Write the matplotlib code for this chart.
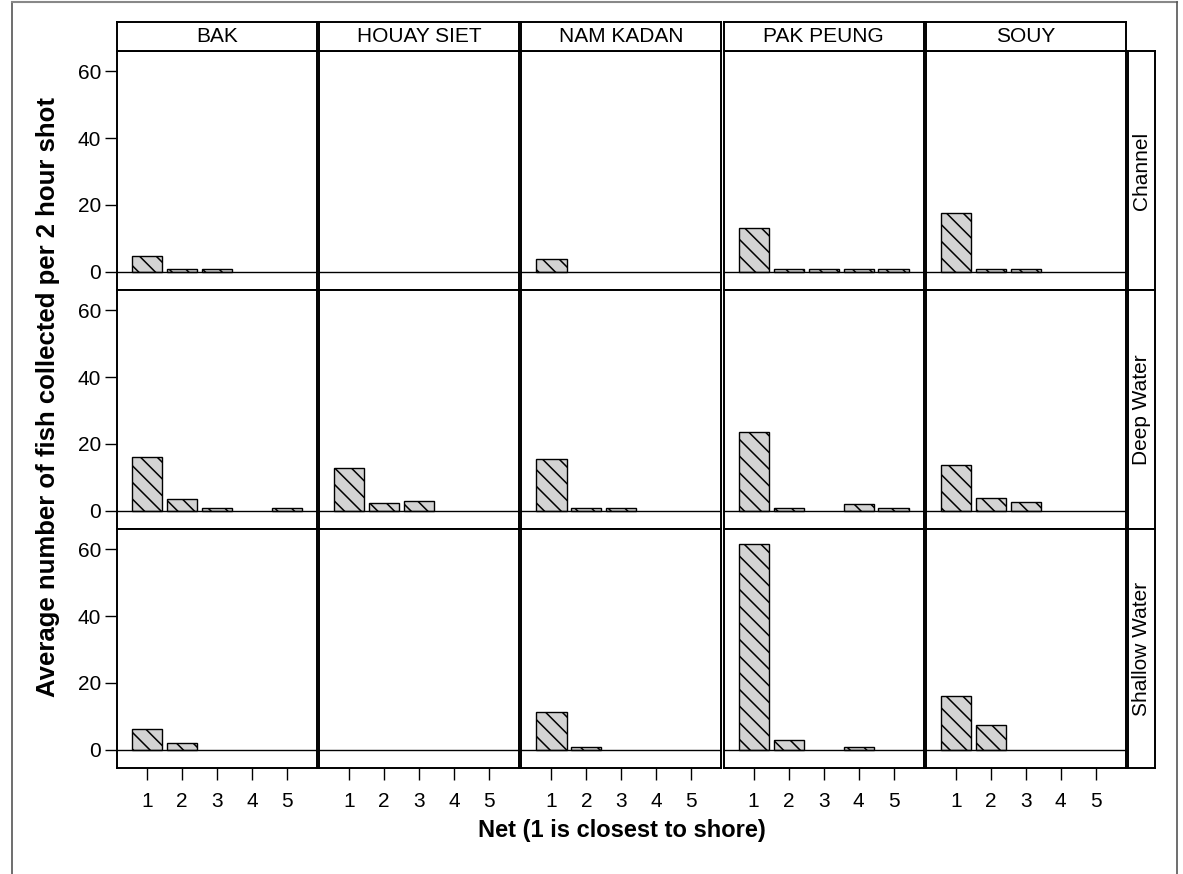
import numpy as np
import matplotlib
matplotlib.use("Agg")
import matplotlib.pyplot as plt
from matplotlib.lines import Line2D

plt.rcParams['font.family'] = ['Liberation Sans', 'DejaVu Sans']
plt.rcParams['hatch.linewidth'] = 1.1
plt.rcParams['hatch.color'] = 'black'

sites = ["BAK", "HOUAY SIET", "NAM KADAN", "PAK PEUNG", "SOUY"]
habitats = ["Channel", "Deep Water", "Shallow Water"]
nets = [1, 2, 3, 4, 5]

# average fish per 2 hour shot, nets 1..5 (nan = no bar)
nan = np.nan
channel = [
    [4.8, 1, 1, nan, nan],
    [nan, nan, nan, nan, nan],
    [4.0, nan, nan, nan, nan],
    [13.0, 1, 1, 1, 1],
    [17.7, 1, 1, nan, nan],
]
deep_water = [
    [16.1, 3.6, 1, nan, 1],
    [12.9, 2.5, 3.0, nan, nan],
    [15.6, 1, 1, nan, nan],
    [23.5, 1, nan, 2.0, 1],
    [13.7, 4.0, 2.7, nan, nan],
]
shallow_water = [
    [6.3, 2.1, nan, nan, nan],
    [nan, nan, nan, nan, nan],
    [11.3, 1, nan, nan, nan],
    [61.5, 3.0, nan, 1, nan],
    [16.1, 7.5, nan, nan, nan],
]
values = [channel, deep_water, shallow_water]

W, H = 1183, 874
fig = plt.figure(figsize=(W / 100, H / 100), dpi=100)

col_left = 117
col_w = 200
col_step = 202.2
row_top = 51
row_h = 239
strip_top = 22
fs = 15

def fx(px):
    return px / W

def fy(py):
    return 1 - py / H

for r, hab in enumerate(habitats):
    for c, site in enumerate(sites):
        x0 = col_left + c * col_step
        y0 = row_top + r * row_h
        ax = fig.add_axes([fx(x0), fy(y0 + row_h), col_w / W, row_h / H])
        vals = np.array(values[r][c], dtype=float)
        ok = ~np.isnan(vals)
        ax.bar(np.array(nets)[ok], vals[ok], width=0.86, color='#d3d3d3',
               edgecolor='black', linewidth=1.0, hatch='\\\\', zorder=2)
        ax.axhline(0, color='black', lw=1.0, zorder=3)
        ax.set_xlim(0.14, 5.86)
        ax.set_ylim(-5.4, 66)
        for s in ax.spines.values():
            s.set_linewidth(1.4)
        ax.tick_params(direction='out', length=8.5, width=1.0, labelsize=fs, pad=3)
        ax.set_yticks([0, 20, 40, 60])
        ax.set_xticks(nets)
        if c != 0:
            ax.tick_params(axis='y', left=False, labelleft=False)
        if r != len(habitats) - 1:
            ax.tick_params(axis='x', bottom=False, labelbottom=False)
        else:
            ax.tick_params(axis='x', pad=9)

# top strips
for c, site in enumerate(sites):
    x0 = col_left + c * col_step
    sax = fig.add_axes([fx(x0), fy(row_top), col_w / W, (row_top - strip_top) / H])
    sax.set_xticks([])
    sax.set_yticks([])
    for s in sax.spines.values():
        s.set_linewidth(1.4)
    sax.text(0.5, 0.5, site, ha='center', va='center', fontsize=fs,
             transform=sax.transAxes)

# right strips
strip_x0 = col_left + 4 * col_step + col_w + 2
for r, hab in enumerate(habitats):
    y0 = row_top + r * row_h
    sax = fig.add_axes([fx(strip_x0), fy(y0 + row_h), 27 / W, row_h / H])
    sax.set_xticks([])
    sax.set_yticks([])
    for s in sax.spines.values():
        s.set_linewidth(1.4)
    sax.text(0.5, 0.5, hab, ha='center', va='center', fontsize=fs,
             rotation=90, transform=sax.transAxes)

fig.text(fx(48), fy(397), "Average number of fish collected per 2 hour shot",
         rotation=90, ha='center', va='center', fontsize=18.5, fontweight='bold')
fig.text(fx(622), fy(830), "Net (1 is closest to shore)",
         ha='center', va='center', fontsize=17, fontweight='bold')

# outer frame
fig.add_artist(Line2D([fx(12), fx(12)], [0, fy(2)], color='#555555', lw=1.2))
fig.add_artist(Line2D([fx(12), fx(1177)], [fy(2), fy(2)], color='#888888', lw=1.5))
fig.add_artist(Line2D([fx(1177), fx(1177)], [0, fy(2)], color='#555555', lw=1.2))

fig.savefig("out.png", dpi=100)
